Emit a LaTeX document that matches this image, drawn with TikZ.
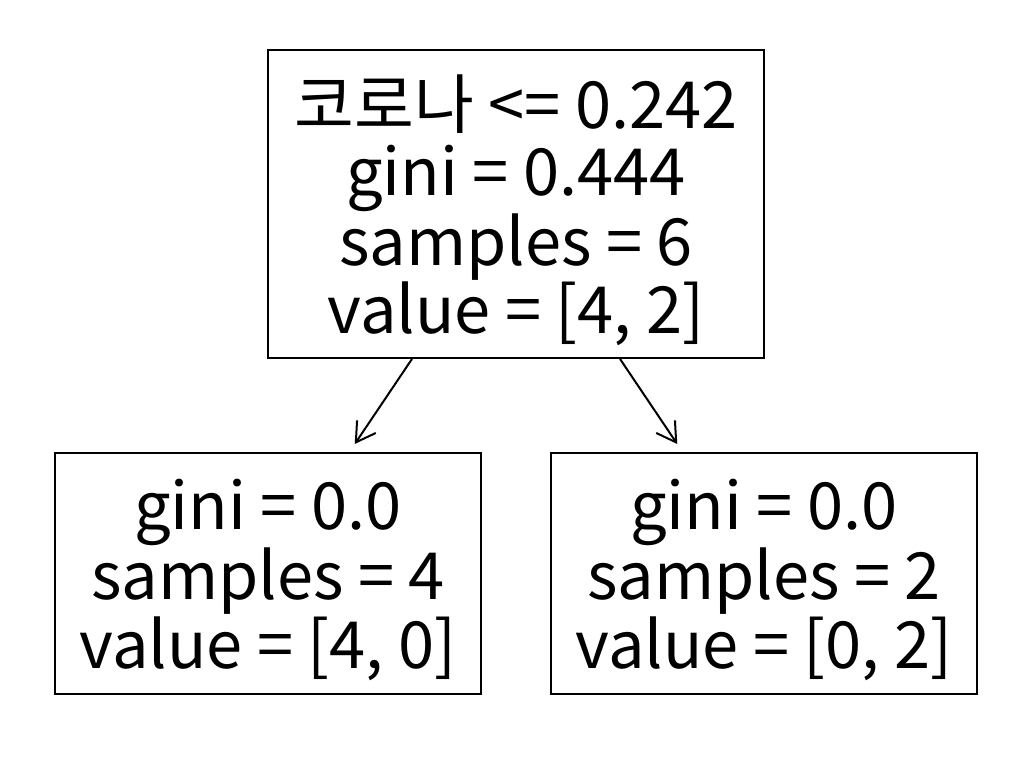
\documentclass[tikz,border=0pt]{standalone}
\usepackage{fontspec}
\setmainfont{Noto Sans CJK KR}
\usetikzlibrary{arrows.meta}
\tikzset{
  tbox/.style={draw=black, line width=1pt, inner sep=0pt},
  tlines/.style={align=center, inner sep=0pt, yshift=-3.2pt,
    font=\fontsize{32.5}{33.25}\selectfont},
  split/.style={-{Straight Barb[length=9.5pt, width=11.3pt]}, line width=1pt, shorten >=4.8pt}
}
\begin{document}
\begin{tikzpicture}[x=0.5pt, y=-0.5pt]
\fill[white] (0,0) rectangle (1031,779);
\useasboundingbox (0,0) rectangle (1031,779);
\node[tbox, minimum width=248pt, minimum height=154pt,
  label={[tlines]center:{코로나 <= 0.242\\gini = 0.444\\samples = 6\\value = [4, 2]}}]
  (root) at (516,204) {};
\node[tbox, minimum width=213pt, minimum height=120.5pt,
  label={[tlines]center:{gini = 0.0\\samples = 4\\value = [4, 0]}}]
  (left) at (268,573.5) {};
\node[tbox, minimum width=213pt, minimum height=120.5pt,
  label={[tlines]center:{gini = 0.0\\samples = 2\\value = [0, 2]}}]
  (right) at (764,573.5) {};
\draw[split] (root) -- (left);
\draw[split] (root) -- (right);
\end{tikzpicture}
\end{document}
